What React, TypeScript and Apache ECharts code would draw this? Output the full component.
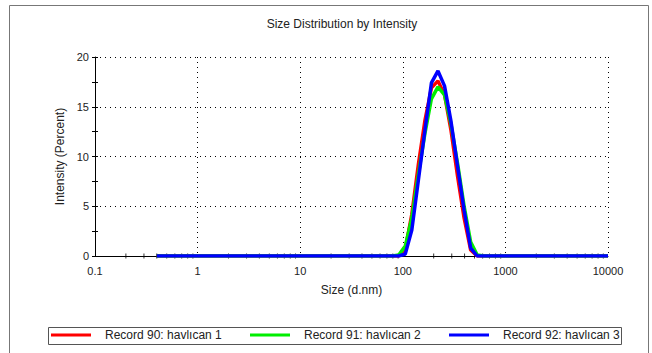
import React, { useEffect, useRef } from "react";
import * as echarts from "echarts";

const title = "Size Distribution by Intensity";
const xName = "Size (d.nm)";
const yName = "Intensity (Percent)";
const seriesNames = ["Record 90: havlıcan 1", "Record 91: havlıcan 2", "Record 92: havlıcan 3"];
const seriesColors = ["#ff0000", "#00ee00", "#0000ff"];

// Size bins (d.nm)
const sizes = [
  0.4, 0.4632, 0.5365, 0.6213, 0.7195, 0.8332, 0.9649, 1.117, 1.294, 1.499,
  1.736, 2.01, 2.328, 2.696, 3.122, 3.615, 4.187, 4.849, 5.615, 6.503,
  7.531, 8.721, 10.1, 11.7, 13.54, 15.69, 18.17, 21.04, 24.36, 28.21,
  32.67, 37.84, 43.82, 50.75, 58.77, 68.06, 78.82, 91.28, 105.7, 122.4,
  141.8, 164.2, 190.1, 220.2, 255.0, 295.3, 342.0, 396.1, 458.7, 531.2,
  615.1, 712.4, 825.0, 955.4, 1106, 1281, 1484, 1718, 1990, 2305,
  2669, 3091, 3580, 4145, 4801, 5560, 6439, 7456, 8635, 10000,
];

const record90 = [
  0, 0, 0, 0, 0, 0, 0, 0, 0, 0,
  0, 0, 0, 0, 0, 0, 0, 0, 0, 0,
  0, 0, 0, 0, 0, 0, 0, 0, 0, 0,
  0, 0, 0, 0, 0, 0, 0, 0, 0.7, 4.2,
  9.2, 13.6, 16.9, 17.6, 16.2, 12.6, 8.0, 3.8, 0.6, 0,
  0, 0, 0, 0, 0, 0, 0, 0, 0, 0,
  0, 0, 0, 0, 0, 0, 0, 0, 0, 0,
];

const record91 = [
  0, 0, 0, 0, 0, 0, 0, 0, 0, 0,
  0, 0, 0, 0, 0, 0, 0, 0, 0, 0,
  0, 0, 0, 0, 0, 0, 0, 0, 0, 0,
  0, 0, 0, 0, 0, 0, 0, 0.1, 1.0, 3.8,
  8.2, 12.3, 15.8, 17.0, 16.2, 13.2, 9.3, 5.0, 1.4, 0.1,
  0, 0, 0, 0, 0, 0, 0, 0, 0, 0,
  0, 0, 0, 0, 0, 0, 0, 0, 0, 0,
];

const record92 = [
  0, 0, 0, 0, 0, 0, 0, 0, 0, 0,
  0, 0, 0, 0, 0, 0, 0, 0, 0, 0,
  0, 0, 0, 0, 0, 0, 0, 0, 0, 0,
  0, 0, 0, 0, 0, 0, 0, 0, 0.2, 2.6,
  7.6, 12.6, 17.4, 18.6, 17.1, 13.5, 9.0, 4.6, 0.8, 0,
  0, 0, 0, 0, 0, 0, 0, 0, 0, 0,
  0, 0, 0, 0, 0, 0, 0, 0, 0, 0,
];

// minor tick positions on the log size axis
const xMinorTicks = [
  0.2, 0.3, 0.4, 0.5, 0.6, 0.7, 0.8, 0.9,
  2, 3, 4, 5, 6, 7, 8, 9,
  20, 30, 40, 50, 60, 70, 80, 90,
  200, 300, 400, 500, 600, 700, 800, 900,
  2000, 3000, 4000, 5000, 6000, 7000, 8000, 9000,
];

const FONT = "'Liberation Sans', Arial, sans-serif";

export default function App() {
  const ref = useRef<HTMLDivElement>(null);
  useEffect(() => {
    if (!ref.current) return;
    const chart = echarts.init(ref.current, null, { renderer: "svg" });
    const allData = [record90, record91, record92];
    const legendLefts = [51, 250, 449];
    chart.setOption({
      animation: false,
      backgroundColor: "#ffffff",
      textStyle: { fontFamily: FONT },
      title: {
        text: title,
        left: 337,
        top: 13,
        textAlign: "center",
        textStyle: { fontSize: 12, fontWeight: "normal", color: "#222", fontFamily: FONT },
      },
      grid: { left: 95, right: 44, top: 57, bottom: 97 },
      legend: seriesNames.map((n, i) => ({
        data: [n],
        left: legendLefts[i],
        top: 329,
        icon: "rect",
        itemWidth: 40,
        itemHeight: 3,
        padding: 0,
        textStyle: { fontSize: 12, color: "#222", fontFamily: FONT, padding: [0, 0, 0, 9] },
        selectedMode: false,
      })),
      xAxis: [
        {
          type: "log",
          logBase: 10,
          min: 0.1,
          max: 10000,
          name: xName,
          nameLocation: "middle",
          nameGap: 28,
          nameTextStyle: { fontSize: 12, color: "#222", fontFamily: FONT },
          axisLine: { show: true, lineStyle: { color: "#000", width: 1 } },
          axisTick: { show: false },
          axisLabel: {
            fontSize: 11,
            color: "#222",
            margin: 9,
            fontFamily: FONT,
            formatter: (v: number) => String(v),
          },
          splitLine: { show: true, lineStyle: { color: "#000", type: [1, 4], width: 1 } },
        },
      ],
      yAxis: [
        {
          type: "value",
          min: 0,
          max: 20,
          interval: 5,
          name: yName,
          nameLocation: "middle",
          nameGap: 27,
          nameTextStyle: { fontSize: 12, color: "#222", fontFamily: FONT },
          axisLine: { show: true, lineStyle: { color: "#000", width: 1 } },
          axisTick: { show: true, inside: false, length: 3, lineStyle: { color: "#000" } },
          minorTick: { show: true, splitNumber: 2, length: 3, lineStyle: { color: "#000" } },
          axisLabel: { fontSize: 11, color: "#222", margin: 6, fontFamily: FONT },
          splitLine: { show: true, lineStyle: { color: "#000", type: [1, 4], width: 1 } },
        },
        {
          type: "value",
          min: 0,
          max: 20,
          interval: 5,
          position: "left",
          axisLine: { show: false },
          axisTick: { show: true, inside: true, length: 3, lineStyle: { color: "#000" } },
          minorTick: { show: true, splitNumber: 2, length: 3, lineStyle: { color: "#000" } },
          axisLabel: { show: false },
          splitLine: { show: false },
        },
      ],
      graphic: [
        {
          type: "rect",
          shape: { x: 9.5, y: 5.5, width: 639, height: 400 },
          style: { fill: "none", stroke: "#777", lineWidth: 1 },
          silent: true,
        },
        {
          type: "rect",
          shape: { x: 48.5, y: 327.5, width: 573, height: 17 },
          style: { fill: "none", stroke: "#555", lineWidth: 1 },
          silent: true,
        },
      ],
      series: [
        {
          type: "scatter",
          name: "minorTicks",
          data: xMinorTicks.map((x) => [x, 0]),
          symbol: "rect",
          symbolSize: [1, 5],
          itemStyle: { color: "#000" },
          silent: true,
          z: 1,
        },
        ...allData.map((d, i) => ({
          type: "line",
          name: seriesNames[i],
          data: sizes.map((s, j) => [s, d[j]]),
          showSymbol: false,
          symbol: "none",
          lineStyle: { color: seriesColors[i], width: 3.5 },
          itemStyle: { color: seriesColors[i] },
          z: 2 + i,
        })),
      ],
    });
    return () => chart.dispose();
  }, []);
  return (
    <div
      ref={ref}
      style={{ position: "fixed", left: 0, top: 0, width: 652, height: 353 }}
    />
  );
}
